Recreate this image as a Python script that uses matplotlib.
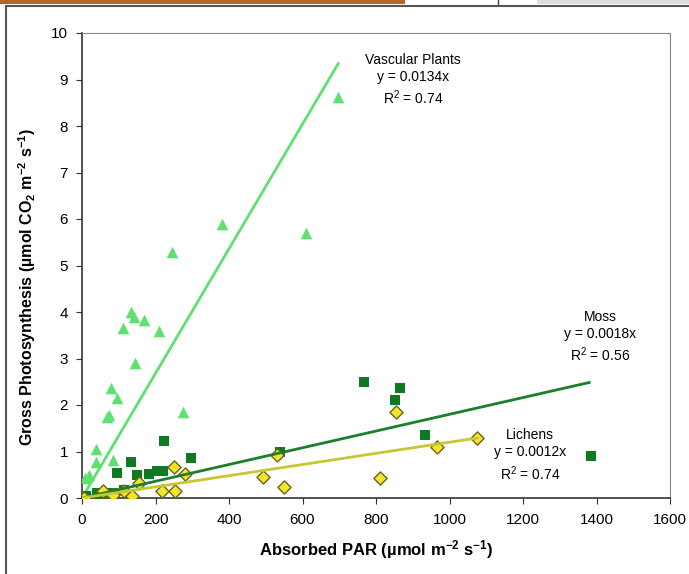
import numpy as np
import matplotlib.pyplot as plt
from matplotlib.patches import Rectangle
from matplotlib.lines import Line2D

plt.rcParams['font.family'] = ['Liberation Sans', 'DejaVu Sans']
plt.rcParams['mathtext.default'] = 'regular'

# vascular plants (triangles)
vasc_x = [0, 3, 5, 8, 20, 38, 38, 69, 74, 78, 85, 94, 111, 132, 142, 143, 169, 209, 244, 276, 381, 610, 697]
vasc_y = [0, 0.02, 0.05, 0.44, 0.49, 0.77, 1.05, 1.75, 1.78, 2.37, 0.82, 2.15, 3.65, 4.01, 3.90, 2.91, 3.83, 3.60, 5.30, 1.84, 5.89, 5.70, 8.62]

# moss (squares)
moss_x = [0, 5, 12, 40, 44, 60, 76, 84, 94, 114, 133, 149, 181, 205, 220, 222, 296, 540, 767, 852, 865, 932, 1384]
moss_y = [0, 0.02, 0.05, 0.10, 0.04, 0.08, 0.10, 0.10, 0.54, 0.17, 0.78, 0.49, 0.52, 0.57, 0.57, 1.23, 0.87, 1.00, 2.50, 2.10, 2.37, 1.36, 0.91]

# lichens (diamonds)
lich_x = [0, 5, 58, 81, 84, 115, 136, 154, 218, 249, 253, 279, 492, 530, 550, 810, 855, 966, 1075]
lich_y = [0, 0.01, 0.16, 0.06, 0.06, 0.14, 0.04, 0.32, 0.16, 0.66, 0.16, 0.51, 0.46, 0.92, 0.24, 0.44, 1.86, 1.10, 1.30]

vasc_slope, moss_slope, lich_slope = 0.0134, 0.0018, 0.0012
vasc_end, moss_end, lich_end = 697, 1380, 1075

c_vasc = '#5fe070'
c_moss = '#0f7a22'
c_lich = '#f2e52a'

fig = plt.figure(figsize=(6.89, 5.74), dpi=100)
ax = fig.add_axes([82/689, 1-498/574, 588/689, 465/574])

ax.scatter(vasc_x, vasc_y, marker='^', s=70, color=c_vasc, zorder=3, linewidths=0)
ax.scatter(moss_x, moss_y, marker='s', s=60, color=c_moss, zorder=3, linewidths=0)
ax.scatter(lich_x, lich_y, marker='D', s=45, color=c_lich, edgecolors='#6b6420', linewidths=1, zorder=4)

xv = np.array([0, vasc_end])
ax.plot(xv, vasc_slope * xv, color=c_vasc, lw=2, zorder=2)
xm = np.array([0, moss_end])
ax.plot(xm, moss_slope * xm, color='#1c7f2c', lw=2, zorder=5)
xl = np.array([0, lich_end])
ax.plot(xl, lich_slope * xl, color='#c9c634', lw=2, zorder=5)

ax.set_xlim(0, 1600)
ax.set_ylim(0, 10)
ax.set_xticks(np.arange(0, 1601, 200))
ax.set_yticks(np.arange(0, 11, 1))
ax.tick_params(labelsize=11, length=4, direction='out', color='#333333')
ax.tick_params(axis='x', pad=7)
ax.tick_params(axis='y', pad=6)
for s in ['top', 'right']:
    ax.spines[s].set_color('#888888')
    ax.spines[s].set_linewidth(0.8)
for s in ['left', 'bottom']:
    ax.spines[s].set_color('#333333')
    ax.spines[s].set_linewidth(1.2)

ax.set_xlabel('Absorbed PAR (µmol m$^{-2}$ s$^{-1}$)', fontsize=12, fontweight='bold', labelpad=8)
ax.set_ylabel('Gross Photosynthesis (µmol CO$_2$ m$^{-2}$ s$^{-1}$)', fontsize=11.5, fontweight='bold')
ax.yaxis.set_label_coords(-0.075, 0.454)

ax.text(900, 8.99, 'Vascular Plants\ny = 0.0134x\nR$^2$ = 0.74', ha='center', va='center', fontsize=10, linespacing=1.3)
ax.text(1411, 3.46, 'Moss\ny = 0.0018x\nR$^2$ = 0.56', ha='center', va='center', fontsize=10, linespacing=1.3)
ax.text(1220, 0.92, 'Lichens\ny = 0.0012x\nR$^2$ = 0.74', ha='center', va='center', fontsize=10, linespacing=1.3)

# screenshot border bits
fig.patches.append(Rectangle((0, 1-4/574), 405/689, 4/574, transform=fig.transFigure,
                             facecolor='#b5642a', edgecolor='none'))
fig.patches.append(Rectangle((537/689, 1-4/574), 152/689, 4/574, transform=fig.transFigure,
                             facecolor='#dddddd', edgecolor='none'))
fig.lines.append(Line2D([498/689, 498/689], [1, 1-4/574], transform=fig.transFigure, color='#444444', lw=1))
fig.lines.append(Line2D([6/689, 1], [1-6/574, 1-6/574], transform=fig.transFigure, color='#555555', lw=1.5))
fig.lines.append(Line2D([6/689, 6/689], [0, 1-6/574], transform=fig.transFigure, color='#555555', lw=1.5))

fig.savefig('out.png', dpi=100)
